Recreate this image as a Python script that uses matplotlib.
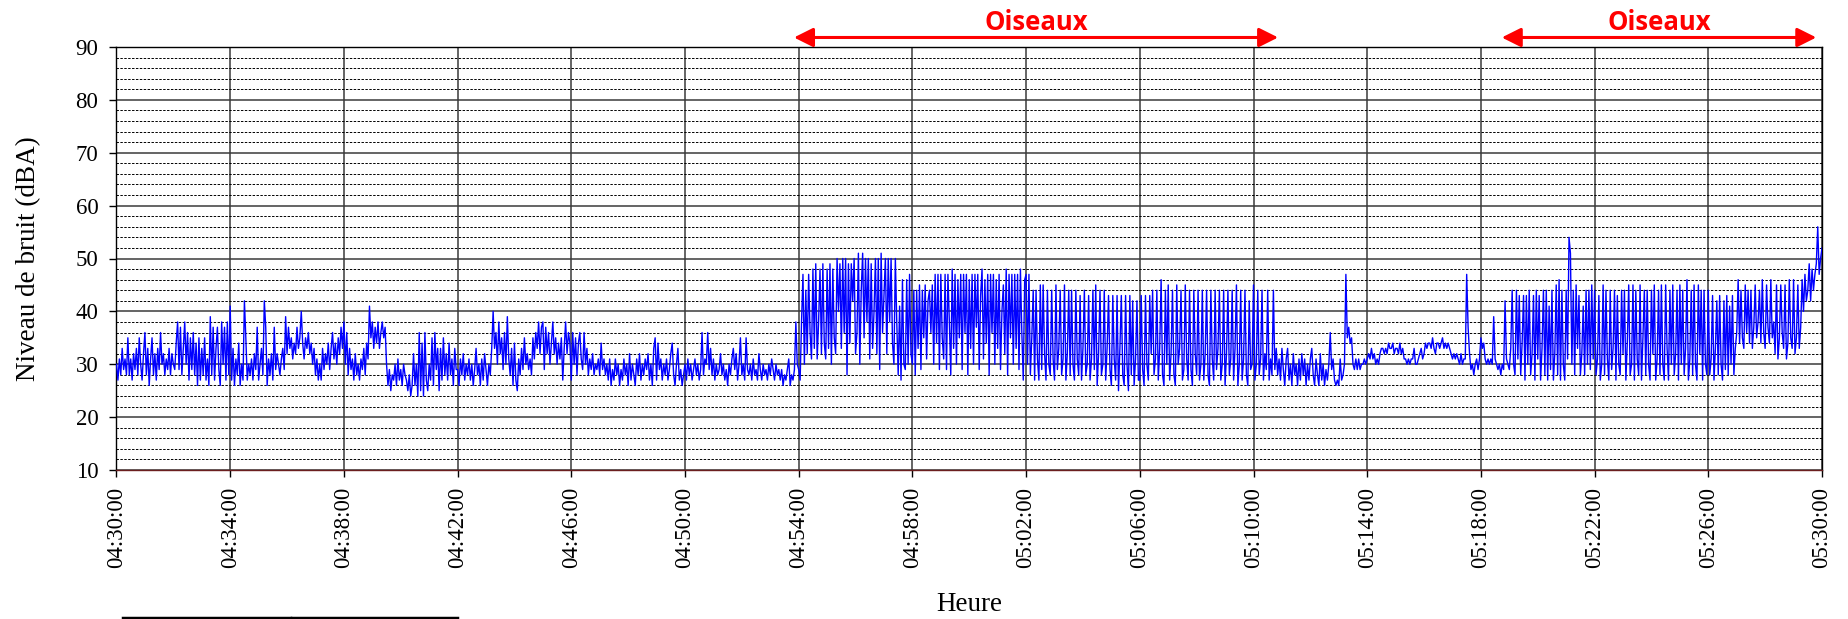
import numpy as np
import matplotlib.pyplot as plt
from matplotlib.lines import Line2D

# niveau de bruit (dBA), lu toutes les 3 s, un bloc par tranche de 4 minutes
seg_0430 = [30,27,31,28,33,29,31,28,35, 28,31,27,32,29,33,28,35,30,27,32,
            36,28,33,26,31, 35,28,32,27,33,29,36,30,32,28, 31,29,33,28,32,30,29,34,
            38,29,37,28,33, 38,30,36,27,35,29, 36,28,34,26,35,27,33,
            28,35,27,31,26,39, 28,37,27,33,37,29, 26,38,30,37,27,38,28]
seg_0434 = [41, 27,33,26,31,28,34,26,30,27, 42, 35,27,30, 28,31,27,32,29,37,
            27,30,33,28, 42, 37,26,31,28,32, 27,37,29,32,30,28, 31,33,29,39,
            32,37,33,35,31,34, 32,37,33,35, 40, 34,31,35,33,36,32,34,
            30,33,28,31,27,30, 27,33,29, 32,30,34,29,33,36, 31,34,30,35,32,37,33]
seg_0438 = [38,30,36,28,33,29, 31,27,32,28,30,27, 31,29,33,28,34, 31,41,
            35,38,33,37,34,38,33,36,38, 35,37,30, 26,29,25,28,27,30,26,
            31,27,29,26,30,28, 27,25,28,24,26, 32,26,30, 24,36,25,34,24,
            36,27,25,30, 27,35,26,36,29,33, 25,33,27,35,28,32, 27,34,28,31,26,33,29]
seg_0442 = [29,26,31,28,32,27,30, 28,31,27,30,26,29,33, 28,30,26,31,27,32,29,
            26,30,28,33,40, 33,36,30,38, 32,35,29,36,30,39, 31,28,33,26,34,27,
            25,31,28,33,29, 35,30,32,29,31,28, 35,31,36,33,38,32,37,38,
            29,37,32,36,30,34, 38,32,35,30,34,31, 35,27,33,38,32,36,34]
seg_0446 = [27,36,30,35,28,34,36,31,29,36, 30,33,28,31,29,32,28, 30,29,31,28,34,29,31,
            28,30,27,31,26,29,27, 31,28,30,26,29,27,31, 28,30,26,32,27,30,28,
            26,31,28,32,27,30,28, 31,29,32,27,30,26,33, 35,27,34,29,31,27,30,
            28,31,27,29,32,34,28, 26,30,33,27,29,26,28]
seg_0450 = [30,27,31,28,30,27,29,31,28,30, 27,29,36,28,31,30,36,29, 33,28,31,27,30,28,29,
            32,28,30,27,29,26,30, 28,31,33,29,32,27,30, 35,28,30,27,35,29,28,
            30,27,31,28,29,27,32, 29,27,30,28,29,27,30, 28,31,29,27,30,28,29,
            27,29,26,28,27,29,31, 26,28,27,29,38,30]
seg_0454 = [29,27,38,47,30,44,32,47,36,31, 48,33,49,31,38,48,32,49,34,31,
            48,33,49,30,48,35,32,50,40,49, 33,50,36,50,28,49,34,49,42,50,
            32,36,51,30,44,51,35,50,38,50, 31,49,33,40,50,32,50,29,51,36,
            43,50,32,50,38,50,34,30,50,38, 28,41,27,46,30,29,46,30,47,32]
seg_0458 = [30,44,28,44,33,45,29,44,35,45, 31,42,44,36,45,30,47,34,47,29,
            47,35,31,47,29,47,38,28,48,33, 47,30,46,35,47,29,47,36,47,28,
            46,33,47,30,47,37,47,29,43,48, 31,46,34,47,28,47,36,47,30,46,
            33,47,29,40,45,32,48,28,47,35, 47,30,47,33,47,29,48,36,27,46]
seg_0502 = [47,30,47,28,35,44,27,44,31,27, 45,29,45,32,27,44,30,28,44,31,
            27,45,29,33,44,28,31,45,27,32, 44,28,44,30,27,44,31,28,43,27,
            33,44,28,30,43,27,31,44,29,45, 26,32,44,28,30,44,27,33,43,29,
            26,43,31,27,43,25,33,43,28,26, 43,30,25,43,28,42,26,31,42,27]
seg_0506 = [27,43,29,26,43,30,27,43,32,44, 28,31,44,27,33,46,28,26,44,30,
            45,27,32,44,28,26,45,30,33,44, 27,29,45,31,27,44,29,26,44,32,
            28,44,27,30,44,27,32,44,28,26, 44,31,27,44,29,33,44,27,30,44,
            26,32,44,28,31,44,27,33,45,26, 30,44,27,31,44,28,26,42,29,30]
seg_0510 = [45,27,30,44,28,31,44,27,32,29, 44,27,31,28,44,29,33,28,31,27,
            33,29,26,31,33,27,30,26,32,28, 30,26,31,27,32,28,31,26,30,27,
            31,33,28,26,31,28,26,32,27,30, 26,29,27,30,36,29,31,27,26,27,
            26,31,27,28,30,47,35,37,34,35, 30,29,31,29,31,29,30,30,31,30]
seg_0514 = [31,32,31,33,31,32,30,31,30,32, 33,33,32,33,32,34,33,33,34,32,
            33,33,32,34,32,33,31,31,30,31, 30,31,31,33,30,30,31,32,33,31,
            32,34,33,34,34,33,35,33,32,34, 34,33,34,35,33,34,33,34,33,32,
            31,32,31,32,31,30,32,30,31,31, 47,37,32,29,30,28,30,31,29,31]
seg_0518 = [35,33,34,31,30,31,30,31,30,39, 31,30,29,30,28,30,29,42,31,30,
            29,33,44,30,28,44,31,43,28,34, 43,27,43,30,44,28,32,43,27,44,
            31,43,27,33,44,28,44,27,41,29, 44,27,32,45,28,46,27,44,30,27,
            44,31,54,51,30,44,28,45,33,43, 28,32,41,28,44,30,44,29,45,31]
seg_0522 = [44,28,31,43,27,30,45,28,44,31, 27,44,29,33,44,27,43,30,28,44,
            32,44,27,34,45,28,30,45,27,44, 31,28,45,27,35,44,28,44,30,27,
            44,32,45,27,31,44,28,45,30,27, 45,33,27,44,30,45,28,32,44,27,
            45,30,44,28,33,46,27,31,44,28, 45,30,27,45,32,44,27,44,30,28]
seg_0526 = [44,28,31,43,27,33,42,28,43,30, 27,42,29,43,28,41,30,43,28,33,
            36,46,34,44,35,33,45,36,44,34, 44,33,37,45,35,38,44,34,46,36,
            33,45,37,34,46,35,38,32,45,31, 35,45,36,33,45,31,34,46,35,33,
            46,32,35,45,33,37,46,40,47,42, 44,49,42,48,44,47,49,56,47,50,
            52]

segments = [seg_0430, seg_0434, seg_0438, seg_0442, seg_0446, seg_0450, seg_0454, seg_0458,
            seg_0502, seg_0506, seg_0510, seg_0514, seg_0518, seg_0522, seg_0526]
seg_starts = ['04:30:00', '04:34:00', '04:38:00', '04:42:00', '04:46:00', '04:50:00',
              '04:54:00', '04:58:00', '05:02:00', '05:06:00', '05:10:00', '05:14:00',
              '05:18:00', '05:22:00', '05:26:00']
tick_labels = ['04:30:00', '04:34:00', '04:38:00', '04:42:00', '04:46:00', '04:50:00',
               '04:54:00', '04:58:00', '05:02:00', '05:06:00', '05:10:00', '05:14:00',
               '05:18:00', '05:22:00', '05:26:00', '05:30:00']
bird_spans = [('04:53:50', '05:10:52'), ('05:18:44', '05:29:48')]
bird_text = 'Oiseaux'
step_s = 3


def to_sec(hms):
    h, m, s = [int(v) for v in hms.split(':')]
    return h * 3600 + m * 60 + s


t0 = to_sec(tick_labels[0])
xs = []
ys = []
for start, seg in zip(seg_starts, segments):
    s0 = to_sec(start) - t0
    xs += [s0 + step_s * k for k in range(len(seg))]
    ys += seg

# %% figure
W, H = 1848, 619
fig = plt.figure(figsize=(W / 100, H / 100), dpi=100)
ax = fig.add_axes([116.5 / W, 1 - 470 / H, 1705.5 / W, 423 / H])

ax.plot(xs, ys, color='#0000FF', lw=1.0, zorder=3)

ax.set_xlim(0, to_sec(tick_labels[-1]) - t0)
ax.set_ylim(10, 90)
ax.set_xticks([to_sec(t) - t0 for t in tick_labels])
ax.set_xticklabels(tick_labels, rotation=90, family='Liberation Serif', fontsize=16.5)
ax.set_yticks(range(10, 91, 10))
ax.set_yticks(range(10, 91, 2), minor=True)
for lab in ax.get_yticklabels():
    lab.set_family('Liberation Serif')
    lab.set_fontsize(16.5)

ax.tick_params(axis='both', which='major', direction='out', length=5, width=1, color='black')
ax.tick_params(axis='x', pad=7)
ax.tick_params(axis='y', pad=8)
ax.tick_params(axis='y', which='minor', length=0)

ax.set_axisbelow(True)
ax.grid(which='major', axis='both', color='#3a3a3a', lw=1.1)
ax.grid(which='minor', axis='y', color='black', lw=0.7, ls=(0, (2.5, 1.5)))

for sp in ax.spines.values():
    sp.set_color('black')
    sp.set_linewidth(1.0)
ax.spines['bottom'].set_color('#6b1f1f')

ax.set_ylabel('Niveau de bruit (dBA)', family='Liberation Serif', fontsize=19.5, va='center')
ax.yaxis.set_label_coords(-0.0516, 0.5)
ax.set_xlabel('Heure', family='Liberation Serif', fontsize=19.5, va='center')
ax.xaxis.set_label_coords(0.5, -0.319)

# fleches "Oiseaux"
for a, b in bird_spans:
    xa, xb = to_sec(a) - t0, to_sec(b) - t0
    ax.annotate('', xy=(xb, 91.8), xytext=(xa, 91.8), xycoords='data',
                annotation_clip=False,
                arrowprops=dict(arrowstyle='<|-|>,head_length=0.4,head_width=0.2',
                                mutation_scale=29, color='#FF0000', lw=2.2,
                                shrinkA=0, shrinkB=0))
    ax.text((xa + xb) / 2, 94.7, bird_text, color='#FF0000', fontsize=18.5,
            fontweight='bold', family='Open Sans', ha='center', va='center',
            clip_on=False)

# bout de bordure en bas a gauche
fig.add_artist(Line2D([122.6 / W, 289.5 / W], [1.5 / H, 1.5 / H], color='black', lw=2.5))
fig.add_artist(Line2D([292 / W, 456.7 / W], [1.5 / H, 1.5 / H], color='black', lw=2.5))

fig.savefig('out.png', dpi=100)
